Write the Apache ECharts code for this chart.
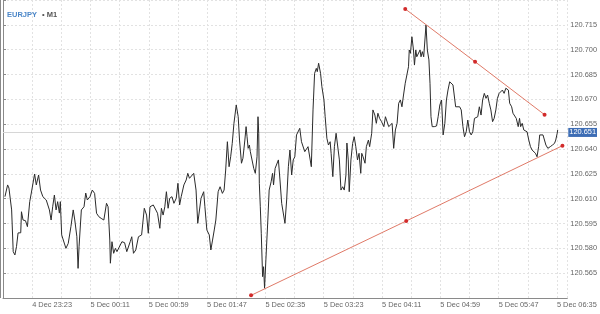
<!DOCTYPE html>
<html><head><meta charset="utf-8">
<script src="https://cdn.jsdelivr.net/npm/echarts@6/dist/echarts.min.js"></script>
<style>html,body{margin:0;padding:0;background:#fff}#c{width:600px;height:314px}</style>
</head><body><div id="c"></div>
<script>
// minutes since 4 Dec 22:59
const times = [1.6,3.8,4.9,7.1,8.4,9.8,11.1,12.4,14.6,15.2,16.5,18.5,20.1,22.0,23.3,26.0,27.4,29.3,30.9,32.8,34.2,35.6,36.9,38.2,39.6,40.9,42.3,43.7,45.0,46.4,47.2,48.3,49.9,51.8,53.7,55.9,57.8,59.1,60.8,61.8,62.6,64.5,66.7,68.1,69.4,71.6,73.5,75.4,77.0,78.9,80.8,83.0,85.2,86.5,87.9,88.4,89.7,91.1,92.5,93.8,95.2,97.9,100.1,101.9,104.7,106.0,107.4,109.3,111.5,114.1,116.3,118.2,119.6,121.0,123.7,125.0,127.2,129.1,130.4,131.8,133.2,134.5,135.9,137.2,139.1,140.7,142.6,144.0,145.4,146.7,148.9,150.8,152.1,153.5,154.8,157.0,158.9,160.3,161.7,163.0,164.3,165.2,166.2,167.8,169.8,171.1,172.5,173.9,175.2,177.1,178.7,180.6,182.0,183.3,184.7,186.1,187.4,188.7,190.1,192.0,193.6,194.7,196.3,197.5,199.1,200.1,200.9,201.8,202.8,203.6,205.0,206.4,207.7,209.1,209.9,210.5,211.0,211.8,212.6,213.7,214.5,215.3,216.4,218.0,219.1,220.7,221.9,222.7,224.0,225.4,226.7,228.0,229.4,230.8,232.1,233.5,234.9,236.2,237.6,238.9,240.2,241.6,243.0,244.3,245.7,247.1,248.4,249.8,251.1,252.4,253.8,255.2,256.5,257.9,258.7,259.8,261.4,262.5,264.2,265.2,266.6,267.9,269.3,270.1,271.5,272.8,274.2,275.6,276.9,278.2,279.6,280.9,282.3,283.1,284.2,285.0,286.4,287.8,289.1,290.4,291.8,293.1,294.5,295.3,296.4,298.0,299.1,300.8,301.8,303.5,304.5,306.1,307.3,308.6,310.0,311.6,313.5,314.8,316.2,317.5,318.9,320.3,321.6,323.0,324.4,325.7,327.1,328.4,329.7,331.1,332.5,333.8,334.4,335.4,336.6,337.9,338.7,339.8,340.6,341.9,343.3,344.1,345.2,346.3,347.4,348.2,349.3,350.6,351.5,352.3,353.3,355.0,356.9,358.2,359.6,361.0,362.3,363.7,365.0,366.3,367.7,369.1,370.4,371.8,372.6,374.0,375.9,377.2,378.6,379.9,381.3,382.6,384.0,385.4,386.7,388.1,389.5,390.8,392.1,393.5,394.8,396.2,397.6,398.9,400.3,401.6,403.0,404.3,405.7,407.0,408.4,409.8,411.1,412.5,413.9,415.2,416.0,417.1,418.7,419.8,421.4,422.5,424.1,425.2,426.1,427.4,428.7,430.1,431.4,432.8,434.2,435.5,436.9,438.3,439.6,440.9,441.8,443.1,444.5,445.8,446.9,448.5,450.5,452.3,454.0,455.0,456.2,456.6];
const prices = [120.6112,120.6183,120.6164,120.6032,120.5780,120.5760,120.5810,120.5893,120.5894,120.6021,120.5971,120.5967,120.5931,120.6082,120.6134,120.6249,120.6183,120.6243,120.6152,120.6112,120.6122,120.6092,120.6104,120.6032,120.5971,120.6051,120.6122,120.6032,120.6082,120.6013,120.6082,120.5881,120.5870,120.5800,120.5830,120.5931,120.6032,120.5971,120.5870,120.5679,120.5810,120.6032,120.6051,120.6134,120.6092,120.6112,120.6152,120.6132,120.6012,120.5991,120.5981,120.5971,120.6072,120.6051,120.5850,120.5710,120.5840,120.5770,120.5800,120.5780,120.5790,120.5840,120.5834,120.5780,120.5840,120.5870,120.5770,120.5790,120.5870,120.5881,120.6042,120.6001,120.5891,120.6051,120.6062,120.6072,120.6012,120.5921,120.6042,120.6001,120.6051,120.6142,120.6042,120.6102,120.6112,120.6072,120.6102,120.6193,120.6062,120.6112,120.6183,120.6213,120.6253,120.6223,120.6223,120.6253,120.6152,120.5951,120.5961,120.6102,120.6112,120.6142,120.6051,120.5911,120.5881,120.5790,120.5850,120.5911,120.5971,120.6142,120.6172,120.6132,120.6152,120.6273,120.6444,120.6293,120.6353,120.6434,120.6555,120.6666,120.6595,120.6454,120.6314,120.6344,120.6454,120.6535,120.6474,120.6404,120.6424,120.6384,120.6374,120.6283,120.6253,120.6353,120.6595,120.6495,120.6193,120.6051,120.5891,120.5629,120.5689,120.5559,120.5730,120.5971,120.6152,120.6202,120.6253,120.6183,120.6283,120.6273,120.6334,120.6213,120.6072,120.6082,120.5951,120.6092,120.6293,120.6394,120.6243,120.6334,120.6353,120.6485,120.6495,120.6525,120.6444,120.6434,120.6384,120.6374,120.6414,120.6414,120.6293,120.6636,120.6857,120.6887,120.6867,120.6918,120.6857,120.6776,120.6696,120.6595,120.6465,120.6424,120.6444,120.6374,120.6233,120.6414,120.6495,120.6504,120.6334,120.6152,120.6172,120.6152,120.6243,120.6436,120.6334,120.6142,120.6334,120.6434,120.6474,120.6414,120.6334,120.6374,120.6253,120.6374,120.6353,120.6314,120.6414,120.6454,120.6414,120.6495,120.6636,120.6605,120.6555,120.6616,120.6585,120.6565,120.6535,120.6595,120.6605,120.6535,120.6525,120.6555,120.6404,120.6515,120.6555,120.6676,120.6696,120.6655,120.6726,120.6797,120.6806,120.6897,120.6998,120.6978,120.7078,120.6998,120.6907,120.6998,120.6957,120.6968,120.6998,120.6957,120.6988,120.6957,120.6957,120.7149,120.6998,120.6938,120.6797,120.6595,120.6535,120.6535,120.6539,120.6595,120.6666,120.6696,120.6485,120.6555,120.6696,120.6756,120.6806,120.6806,120.6787,120.6776,120.6655,120.6666,120.6655,120.6636,120.6535,120.6474,120.6504,120.6575,120.6504,120.6485,120.6504,120.6585,120.6575,120.6595,120.6655,120.6605,120.6696,120.6736,120.6706,120.6726,120.6676,120.6636,120.6565,120.6585,120.6636,120.6706,120.6736,120.6726,120.6756,120.6736,120.6767,120.6776,120.6756,120.6676,120.6655,120.6616,120.6625,120.6585,120.6535,120.6585,120.6535,120.6555,120.6515,120.6525,120.6504,120.6454,120.6414,120.6394,120.6384,120.6374,120.6353,120.6414,120.6485,120.6474,120.6485,120.6474,120.6424,120.6404,120.6414,120.6424,120.6434,120.6454,120.6495,120.6515];
const upperTimes = [331.1, 388.6, 445.8];
const upperPrices = [120.7246, 120.6927, 120.6607];
const lowerTimes = [204.2, 331.9, 460.5];
const lowerPrices = [120.5516, 120.5965, 120.6420];
const currentPrice = 120.651;
const symbolName = 'EURJPY';
const timeframe = 'M1';
const yMin = 120.550, yMax = 120.730, yStep = 0.015;
const xMin = 0, xMax = 464.5, xStep = 24; // minutes since 4 Dec 22:59
const baseDay = 4, baseMinuteOfDay = 22 * 60 + 59;

function fmtTime(v) {
  const total = baseMinuteOfDay + Math.round(v);
  const day = baseDay + Math.floor(total / 1440);
  const mod = total % 1440;
  const hh = String(Math.floor(mod / 60)).padStart(2, '0');
  const mm = String(mod % 60).padStart(2, '0');
  return day + ' Dec ' + hh + ':' + mm;
}

const pairs = (a, b) => a.map((t, i) => [t, b[i]]);
const font = 'Liberation Sans, Arial, sans-serif';

const chart = echarts.init(document.getElementById('c'), null, {renderer: 'canvas'});
chart.setOption({
  animation: false,
  backgroundColor: '#ffffff',
  title: {
    text: '{a|' + symbolName + '} {b|\u2022 ' + timeframe + '}',
    left: 2, top: 1,
    textStyle: {
      fontFamily: font,
      rich: {
        a: {color: '#4a86c8', fontSize: 7.5, fontFamily: font},
        b: {color: '#555555', fontSize: 7.5, fontFamily: font}
      }
    }
  },
  grid: {left: -2, right: 31, top: 0, bottom: 16, containLabel: false},
  xAxis: {
    type: 'value', min: xMin, max: xMax, interval: xStep,
    axisLine: {show: true, lineStyle: {color: '#8a8a8a', width: 1}},
    axisTick: {show: false},
    splitLine: {show: true, lineStyle: {color: '#e2e2e2', type: [2, 2], width: 1}},
    axisLabel: {
      show: true, margin: 3, align: 'left', color: '#666666', fontSize: 7.4, fontFamily: font,
      showMinLabel: true, showMaxLabel: true,
      formatter: function (v) {
        const k = Math.round(v);
        if (Math.abs(v - k) > 0.01) return '';
        if ((k - 24) % 48 !== 0 || k < 24) return '';
        return fmtTime(k);
      }
    }
  },
  yAxis: {
    type: 'value', position: 'right', min: yMin, max: yMax, interval: yStep, scale: true,
    axisLine: {show: true, lineStyle: {color: '#8a8a8a', width: 1}},
    axisTick: {show: true, length: 3, lineStyle: {color: '#8a8a8a'}},
    splitLine: {show: true, lineStyle: {color: '#e2e2e2', type: [2, 2], width: 1}},
    axisLabel: {
      show: true, margin: 3, color: '#666666', fontSize: 7.4, fontFamily: font,
      formatter: function (v) {
        if (v < yMin + 0.005 || v > yMax - 0.005) return '';
        return v.toFixed(3);
      }
    }
  },
  graphic: [{
    type: 'line', silent: true, z: 10,
    shape: {x1: 0.5, y1: 0, x2: 0.5, y2: 298},
    style: {stroke: '#8a8a8a', lineWidth: 1}
  }],
  series: [
    {
      type: 'line', data: pairs(times, prices), showSymbol: false, symbol: 'none',
      lineStyle: {color: '#2b2b2b', width: 1}, z: 5,
      markLine: {
        silent: true, symbol: 'none', animation: false,
        lineStyle: {color: '#d6d6d6', type: 'solid', width: 1.2},
        label: {
          position: 'end', distance: 1, formatter: currentPrice.toFixed(3),
          backgroundColor: '#3d6db5', color: '#ffffff', fontSize: 7.4, fontFamily: font,
          padding: [1, 1, 1, 1]
        },
        data: [{yAxis: currentPrice}]
      }
    },
    {
      type: 'line', data: pairs(upperTimes, upperPrices), symbol: 'circle', symbolSize: 4,
      lineStyle: {color: '#e07a68', width: 1}, itemStyle: {color: '#d22b2b'}, z: 6
    },
    {
      type: 'line', data: pairs(lowerTimes, lowerPrices), symbol: 'circle', symbolSize: 4,
      lineStyle: {color: '#e07a68', width: 1}, itemStyle: {color: '#d22b2b'}, z: 6
    }
  ]
});
</script></body></html>
